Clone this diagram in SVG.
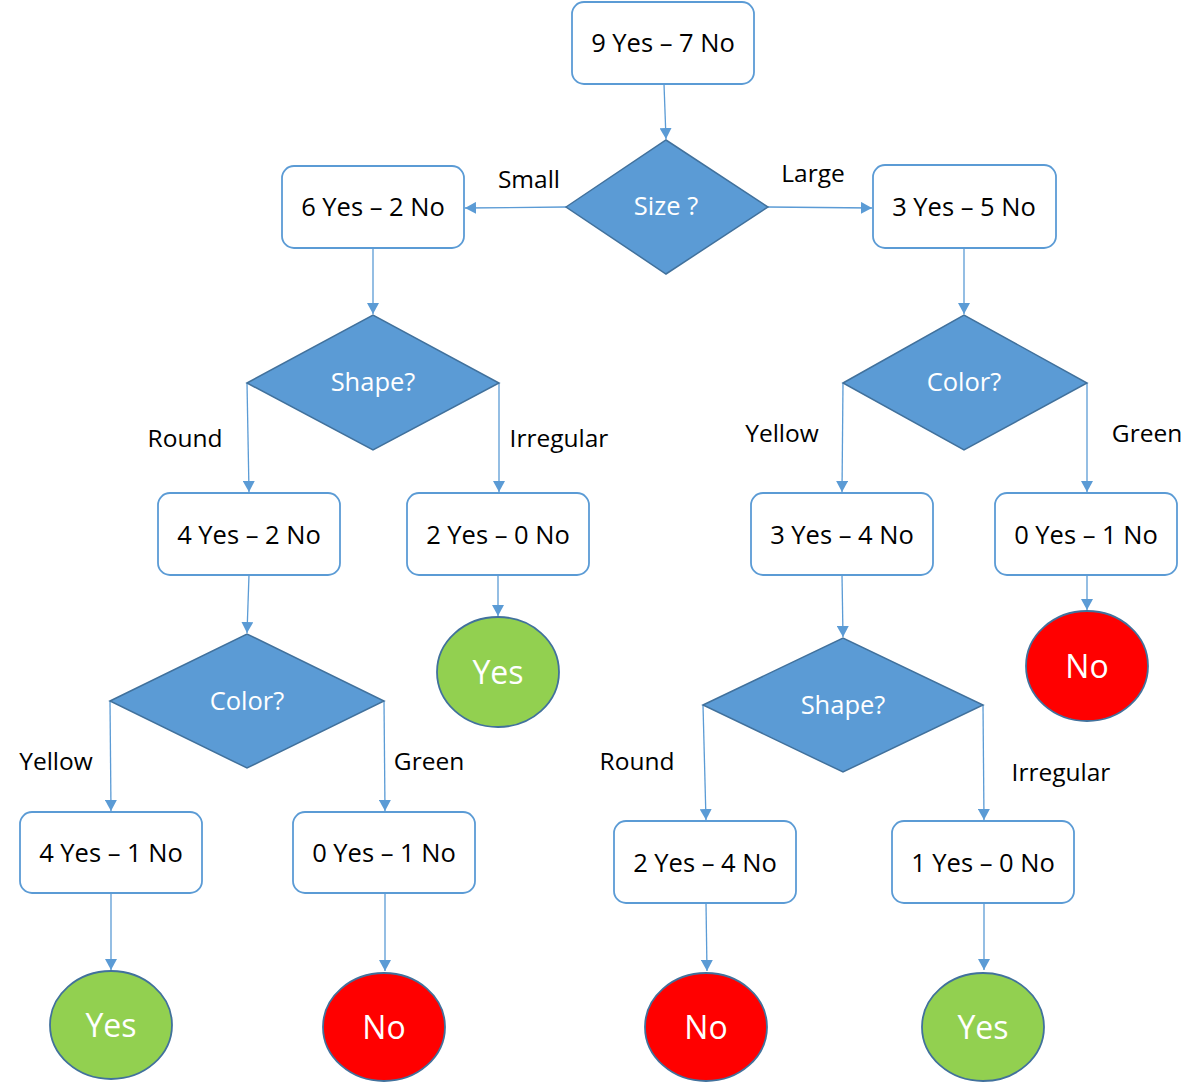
<svg xmlns="http://www.w3.org/2000/svg" width="1202" height="1083" viewBox="0 0 1202 1083">
<defs>
<style>
.box{fill:#ffffff;stroke:#5b9bd5;stroke-width:1.8}
.dia{fill:#5b9bd5;stroke:#41719c;stroke-width:1.5}
.yes{fill:#92d050;stroke:#41719c;stroke-width:1.8}
.no{fill:#ff0000;stroke:#41719c;stroke-width:1.8}
.t{font-family:"Open Sans","Liberation Sans",sans-serif;font-size:25.5px;fill:#000000;text-anchor:middle}
.w{font-family:"Open Sans","Liberation Sans",sans-serif;font-size:25.5px;fill:#ffffff;text-anchor:middle}
.big{font-family:"Open Sans","Liberation Sans",sans-serif;font-size:32px;fill:#ffffff;text-anchor:middle}
.lbl{font-family:"Open Sans","Liberation Sans",sans-serif;font-size:24.5px;fill:#000000;text-anchor:middle}
.c{fill:none;stroke:#5b9bd5;stroke-width:1.3;marker-end:url(#ah)}
</style>
<marker id="ah" markerUnits="userSpaceOnUse" markerWidth="12" markerHeight="12" refX="11" refY="6" orient="auto">
<path d="M0,0 L11,6 L0,12 z" fill="#5b9bd5"/>
</marker>
</defs>
<rect width="1202" height="1083" fill="#ffffff"/>

<g id="connectors">
<line class="c" x1="664" y1="84" x2="666" y2="139"/>
<line class="c" x1="566" y1="207" x2="465" y2="208"/>
<line class="c" x1="768" y1="207" x2="872" y2="208"/>
<line class="c" x1="373" y1="248" x2="373" y2="314"/>
<line class="c" x1="247" y1="383" x2="249" y2="492"/>
<line class="c" x1="499" y1="383" x2="499" y2="492"/>
<line class="c" x1="249" y1="575" x2="247" y2="633"/>
<line class="c" x1="498" y1="575" x2="498" y2="616"/>
<line class="c" x1="110" y1="701" x2="111" y2="811"/>
<line class="c" x1="384" y1="701" x2="385" y2="811"/>
<line class="c" x1="111" y1="893" x2="111" y2="970"/>
<line class="c" x1="385" y1="893" x2="385" y2="971"/>
<line class="c" x1="964" y1="248" x2="964" y2="314"/>
<line class="c" x1="843" y1="383" x2="842" y2="492"/>
<line class="c" x1="1087" y1="383" x2="1087" y2="492"/>
<line class="c" x1="1087" y1="575" x2="1087" y2="610"/>
<line class="c" x1="842" y1="575" x2="843" y2="637"/>
<line class="c" x1="703" y1="705" x2="706" y2="820"/>
<line class="c" x1="983" y1="705" x2="984" y2="820"/>
<line class="c" x1="706" y1="903" x2="707" y2="971"/>
<line class="c" x1="984" y1="903" x2="984" y2="970"/>
</g>

<g id="edge-labels">
<text class="lbl" x="529" y="188">Small</text>
<text class="lbl" x="813" y="182">Large</text>
<text class="lbl" x="185" y="447">Round</text>
<text class="lbl" x="559" y="447">Irregular</text>
<text class="lbl" x="782" y="442">Yellow</text>
<text class="lbl" x="1147" y="442">Green</text>
<text class="lbl" x="56" y="770">Yellow</text>
<text class="lbl" x="429" y="770">Green</text>
<text class="lbl" x="637" y="770">Round</text>
<text class="lbl" x="1061" y="781">Irregular</text>
</g>

<g id="n-root"><rect class="box" x="572" y="2" width="182" height="82" rx="12"/><text class="t" x="663" y="52">9 Yes – 7 No</text></g>
<g id="n-size"><polygon class="dia" points="566,207 666,140 768,207 666,274"/><text class="w" x="666" y="215">Size ?</text></g>
<g id="n-small"><rect class="box" x="282" y="166" width="182" height="82" rx="12"/><text class="t" x="373" y="216">6 Yes – 2 No</text></g>
<g id="n-large"><rect class="box" x="873" y="165" width="183" height="83" rx="12"/><text class="t" x="964" y="216">3 Yes – 5 No</text></g>
<g id="n-shape1"><polygon class="dia" points="247,383 373,315 499,383 373,450"/><text class="w" x="373" y="391">Shape?</text></g>
<g id="n-color1"><polygon class="dia" points="843,383 964,315 1087,383 964,450"/><text class="w" x="964" y="391">Color?</text></g>
<g id="n-round1"><rect class="box" x="158" y="493" width="182" height="82" rx="12"/><text class="t" x="249" y="544">4 Yes – 2 No</text></g>
<g id="n-irr1"><rect class="box" x="407" y="493" width="182" height="82" rx="12"/><text class="t" x="498" y="544">2 Yes – 0 No</text></g>
<g id="n-yellow1"><rect class="box" x="751" y="493" width="182" height="82" rx="12"/><text class="t" x="842" y="544">3 Yes – 4 No</text></g>
<g id="n-green1"><rect class="box" x="995" y="493" width="182" height="82" rx="12"/><text class="t" x="1086" y="544">0 Yes – 1 No</text></g>
<g id="n-leaf-yes1"><ellipse class="yes" cx="498" cy="672" rx="61" ry="55"/><text class="big" x="498" y="684">Yes</text></g>
<g id="n-leaf-no1"><ellipse class="no" cx="1087" cy="666" rx="61" ry="55"/><text class="big" x="1087" y="678">No</text></g>
<g id="n-color2"><polygon class="dia" points="110,701 247,634 384,701 247,768"/><text class="w" x="247" y="710">Color?</text></g>
<g id="n-shape2"><polygon class="dia" points="703,705 843,638 983,705 843,772"/><text class="w" x="843" y="714">Shape?</text></g>
<g id="n-yellow2"><rect class="box" x="20" y="812" width="182" height="81" rx="12"/><text class="t" x="111" y="862">4 Yes – 1 No</text></g>
<g id="n-green2"><rect class="box" x="293" y="812" width="182" height="81" rx="12"/><text class="t" x="384" y="862">0 Yes – 1 No</text></g>
<g id="n-round2"><rect class="box" x="614" y="821" width="182" height="82" rx="12"/><text class="t" x="705" y="872">2 Yes – 4 No</text></g>
<g id="n-irr2"><rect class="box" x="892" y="821" width="182" height="82" rx="12"/><text class="t" x="983" y="872">1 Yes – 0 No</text></g>
<g id="n-leaf-yes2"><ellipse class="yes" cx="111" cy="1025" rx="61" ry="54"/><text class="big" x="111" y="1037">Yes</text></g>
<g id="n-leaf-no2"><ellipse class="no" cx="384" cy="1027" rx="61" ry="54"/><text class="big" x="384" y="1039">No</text></g>
<g id="n-leaf-no3"><ellipse class="no" cx="706" cy="1027" rx="61" ry="54"/><text class="big" x="706" y="1039">No</text></g>
<g id="n-leaf-yes3"><ellipse class="yes" cx="983" cy="1027" rx="61" ry="54"/><text class="big" x="983" y="1039">Yes</text></g>
</svg>
